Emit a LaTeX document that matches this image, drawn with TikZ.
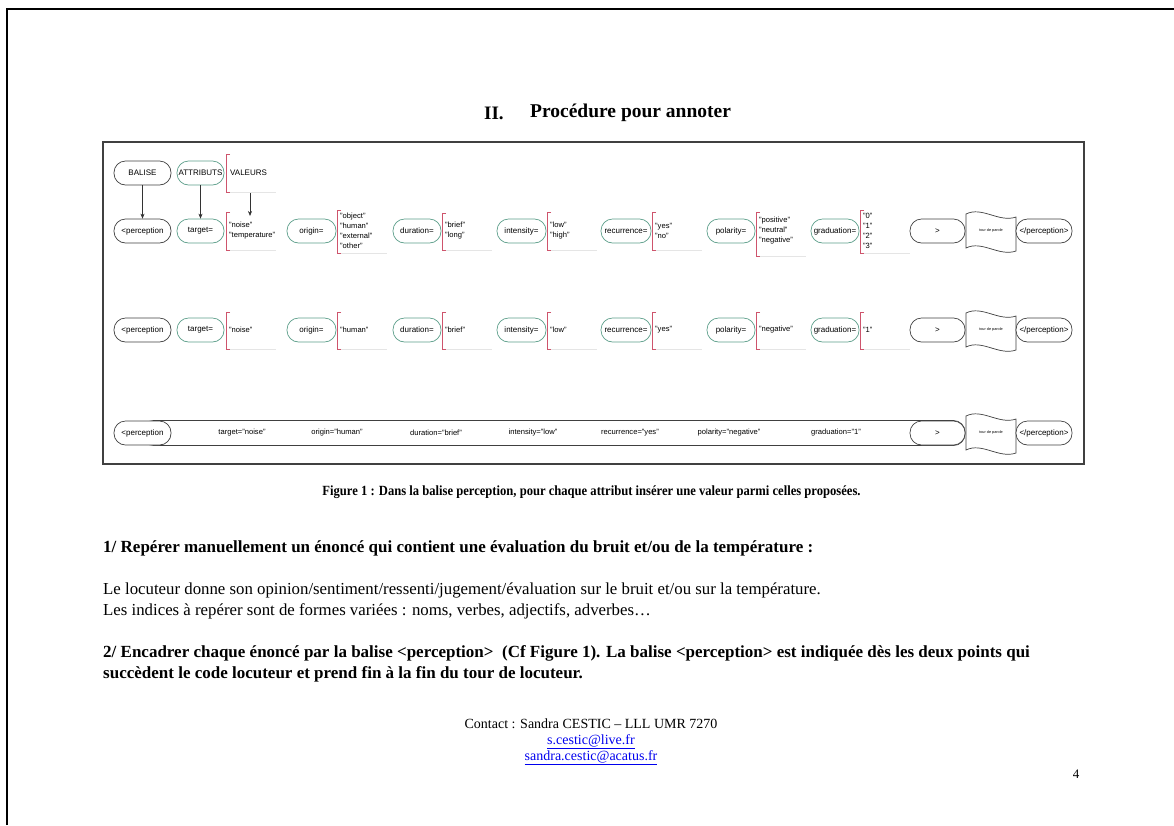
\documentclass[tikz,border=0pt]{standalone}
\usepackage{fontspec}
\setmainfont{Liberation Serif}
\setsansfont{Liberation Sans}
\newfontfamily\capfont{Liberation Serif}[FakeStretch=0.9]
\usepackage{xcolor}
\usetikzlibrary{arrows.meta, positioning}
\definecolor{attrgreen}{RGB}{92,158,138}
\definecolor{valred}{RGB}{206,84,108}
\definecolor{linkblue}{RGB}{0,0,238}
\tikzset{
	tagbox/.style={draw=black!75, rounded corners=11.5pt, minimum height=24pt, inner sep=1pt, font=\sffamily\fontsize{8}{9}\selectfont, fill=white, line width=0.7pt},
	attrbox/.style={tagbox, draw=attrgreen},
	valbrace/.style={draw=valred, line width=0.9pt},
	valtext/.style={anchor=west, align=left, inner sep=0pt, font=\sffamily\fontsize{7.6}{10}\selectfont},
	valedge/.style={draw=black!10, line width=0.5pt},
	tourbox/.style={draw=black!75, line width=0.7pt, fill=white},
	flattext/.style={inner sep=0pt, font=\sffamily\fontsize{7.6}{9}\selectfont},
	tagarr/.style={-{Stealth[length=5pt,width=4pt]}, black!80, line width=0.6pt},
	bodytext/.style={anchor=west, inner sep=0pt, font=\fontsize{16.8}{19}\selectfont},
	boldtext/.style={bodytext, font=\bfseries\fontsize{17}{19}\selectfont},
}

\begin{document}
\begin{tikzpicture}[x=1pt, y=-1pt]
	\useasboundingbox (0,0) rectangle (1174,825);
	% page edges
	\draw[line width=2pt] (7,825) -- (7,9) -- (1174,9);
	\node[inner sep=0pt, anchor=west, font=\bfseries\fontsize{19}{22}\selectfont] (secnum) at (484,113) {II.};
	\node[inner sep=0pt, anchor=west, font=\bfseries\fontsize{19.5}{22}\selectfont] (title) at (530,113) {Procédure pour annoter};
	% figure frame
	\draw[black!75, line width=1.1pt] (103,142) rectangle (1084,464);
	% legend
	\node[tagbox, minimum width=57pt] (balise) at (142.5,173) {BALISE};
	\node[attrbox, minimum width=47pt] (attribs) at (200.5,173) {ATTRIBUTS};
	\draw[valbrace] (230,154) -| (226,192) -- (230,192);
	\draw[valedge] (230,192) -- (276,192);
	\node[valtext, font=\sffamily\fontsize{8}{10}\selectfont] (valeurs) at (230,173) {VALEURS};
	\coordinate (valsrc) at (250,193);
	\coordinate (valdst) at (250,216);
	% flat row: one long tag
	\node[tagbox, minimum width=823pt, minimum height=25pt] (spanbar) at (553.5,433) {};
	\foreach \t/\cx [count=\i] in {target="noise"/242, origin="human"/337, duration="brief"/436, intensity="low"/533, recurrence="yes"/630, polarity="negative"/729, graduation="1"/836}
		\node[flattext] (flat\i) at (\cx,433) {\t};
	% tag ends, all rows
	\foreach \y in {231,330,433}{
		\node[tagbox, minimum width=57pt] (open\y) at (142.5,\y) {<perception};
		\node[tagbox, minimum width=55pt] (close\y) at (937.5,\y) {>};
		\draw[tourbox] (966,\y-17) .. controls (982,\y-25) and (999,\y-8) .. (1016,\y-14) -- (1016,\y+20) .. controls (999,\y+26) and (982,\y+9) .. (966,\y+17) -- cycle;
		\node[inner sep=0pt, font=\sffamily\fontsize{3.8}{4}\selectfont] (tour\y) at (991,\y) {tour de parole};
		\node[tagbox, minimum width=56pt] (end\y) at (1044,\y) {</perception>};
	}
	% attributes with values (row 1) and one chosen value (row 2)
	\foreach \n/\cx/\w/\bx/\bt/\bb/\vals/\one in {
		target/200.5/47/226/212/250/{"noise"\\"temperature"}/"noise",
		origin/311.5/49/337/210/253/{"object"\\"human"\\"external"\\"other"}/"human",
		duration/417/48/442/213/250/{"brief"\\"long"}/"brief",
		intensity/521.5/49/547/212/250/{"low"\\"high"}/"low",
		recurrence/626/50/652/212/250/{"yes"\\"no"}/"yes",
		polarity/731/48/756/212/256/{"positive"\\"neutral"\\"negative"}/"negative",
		graduation/835/48/860/210/253/{"0"\\"1"\\"2"\\"3"}/"1"}{
		\node[attrbox, minimum width=\w pt] (\n-a) at (\cx,231) {\n=};
		\draw[valbrace] (\bx+4,\bt) -| (\bx,\bb) -- (\bx+4,\bb);
		\draw[valedge] (\bx+4,\bb) -- (\bx+50,\bb);
		\node[valtext] (\n-v) at (\bx+3,231) {\vals};
		\node[attrbox, minimum width=\w pt] (\n-b) at (\cx,330) {\n=};
		\draw[valbrace] (\bx+4,312) -| (\bx,349) -- (\bx+4,349);
		\draw[valedge] (\bx+4,349) -- (\bx+50,349);
		\node[valtext] (\n-w) at (\bx+3,330) {\one};
	}
	\draw[tagarr] (balise) -- (open231);
	\draw[tagarr] (attribs) -- (target-a);
	\draw[tagarr] (valsrc) -- (valdst);
	% text below the figure
	\node[inner sep=0pt, font=\capfont\bfseries\fontsize{14}{16}\selectfont] (caption) at (591.5,492) {Figure 1 : Dans la balise perception, pour chaque attribut insérer une valeur parmi celles proposées.};
	\node[boldtext] (step1) at (103,548) {1/ Repérer manuellement un énoncé qui contient une évaluation du bruit et/ou de la température :};
	\node[bodytext] (para1) at (103,590) {Le locuteur donne son opinion/sentiment/ressenti/jugement/évaluation sur le bruit et/ou sur la température.};
	\node[bodytext] (para2) at (103,611) {Les indices à repérer sont de formes variées : noms, verbes, adjectifs, adverbes…};
	\node[boldtext] (step2a) at (103,653) {2/ Encadrer chaque énoncé par la balise <perception>~~(Cf Figure 1). La balise <perception> est indiquée dès les deux points qui};
	\node[boldtext] (step2b) at (103,674) {succèdent le code locuteur et prend fin à la fin du tour de locuteur.};
	\node[inner sep=0pt, align=center, font=\fontsize{14}{16}\selectfont] (contact) at (591,742) {Contact : Sandra CESTIC – LLL UMR 7270\\ \textcolor{linkblue}{\underline{s.cestic@live.fr}}\\ \textcolor{linkblue}{\underline{sandra.cestic@acatus.fr}}};
	\node[inner sep=0pt, font=\fontsize{13}{16}\selectfont] (pagenum) at (1076,774) {4};
\end{tikzpicture}
\end{document}
